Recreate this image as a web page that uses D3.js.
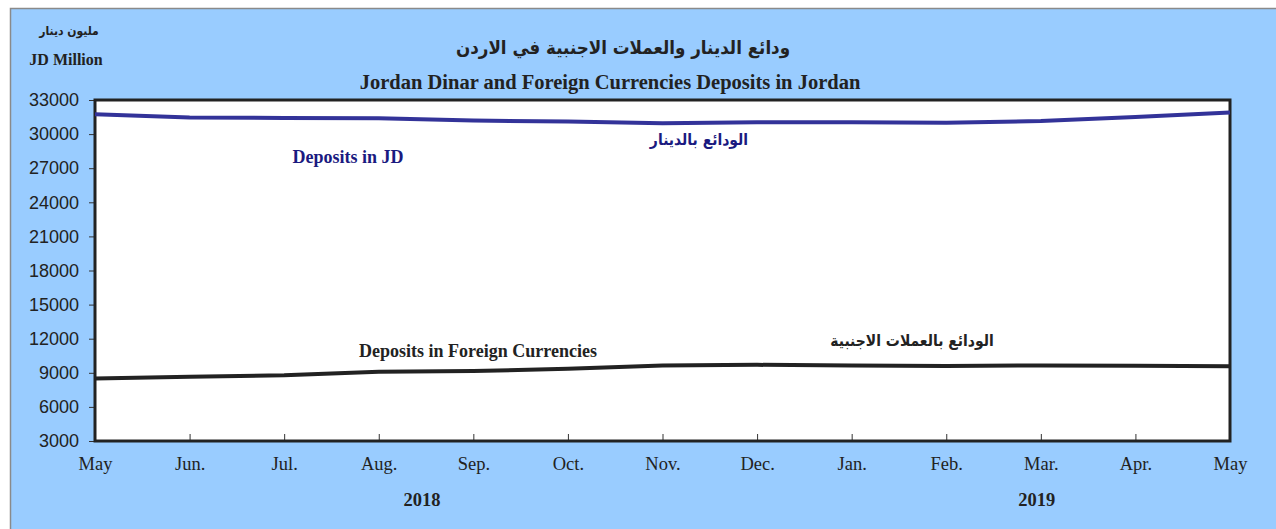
<!DOCTYPE html>
<html>
<head>
<meta charset="utf-8">
<script src="https://cdn.jsdelivr.net/npm/d3@7"></script>
<style>
  body { margin: 0; background: #fff; }
  svg { display: block; }
</style>
</head>
<body>
<script>
// chart data
const months = ['May', 'Jun.', 'Jul.', 'Aug.', 'Sep.', 'Oct.', 'Nov.', 'Dec.', 'Jan.', 'Feb.', 'Mar.', 'Apr.', 'May'];
const depositsJD = [31750, 31450, 31420, 31400, 31200, 31100, 30950, 31050, 31050, 31000, 31150, 31500, 31900];
const depositsFC = [8500, 8650, 8780, 9100, 9150, 9350, 9650, 9700, 9650, 9600, 9650, 9620, 9580];
const yTicks = [3000, 6000, 9000, 12000, 15000, 18000, 21000, 24000, 27000, 30000, 33000];
const years = [{ label: '2018', at: 3.5 }, { label: '2019', at: 10 }];

const W = 1276, H = 529;
const plot = { left: 95, right: 1230, top: 100, bottom: 441 };

const svg = d3.select('body').append('svg')
    .attr('width', W)
    .attr('height', H);

// light blue panel
svg.append('rect')
    .attr('x', 10.5).attr('y', 8.5)
    .attr('width', W).attr('height', H)
    .attr('fill', '#99ccff')
    .attr('stroke', '#8a8a8a')
    .attr('stroke-width', 1.5);

const x = d3.scaleLinear().domain([0, months.length - 1]).range([plot.left, plot.right]);
const y = d3.scaleLinear().domain([3000, 33000]).range([plot.bottom, plot.top]);

// plot area
svg.append('rect')
    .attr('x', plot.left).attr('y', plot.top)
    .attr('width', plot.right - plot.left).attr('height', plot.bottom - plot.top)
    .attr('fill', '#fff');

// y axis
const yAxis = svg.append('g')
    .attr('transform', `translate(${plot.left},0)`)
    .call(d3.axisLeft(y).tickValues(yTicks).tickSize(6).tickPadding(10).tickFormat(d3.format('d')));
yAxis.select('.domain').remove();
yAxis.selectAll('line').attr('stroke', '#333');
yAxis.selectAll('text')
    .attr('font-family', 'Liberation Sans, Arial, sans-serif')
    .attr('font-size', 18)
    .attr('fill', '#222');

// x axis, ticks pointing inward
const xAxis = svg.append('g')
    .attr('transform', `translate(0,${plot.bottom})`)
    .call(d3.axisBottom(x).tickValues(d3.range(months.length))
        .tickSize(-7).tickPadding(16).tickFormat(i => months[i]));
xAxis.select('.domain').remove();
xAxis.selectAll('line').attr('stroke', '#333');
xAxis.selectAll('text')
    .attr('font-family', 'Liberation Serif, Times New Roman, serif')
    .attr('font-size', 18.5)
    .attr('fill', '#222');

// plot frame
svg.append('rect')
    .attr('x', plot.left).attr('y', plot.top)
    .attr('width', plot.right - plot.left).attr('height', plot.bottom - plot.top)
    .attr('fill', 'none')
    .attr('stroke', '#222')
    .attr('stroke-width', 3);

const line = d3.line().x((d, i) => x(i)).y(d => y(d));

svg.append('path')
    .datum(depositsJD)
    .attr('d', line)
    .attr('fill', 'none')
    .attr('stroke', '#333399')
    .attr('stroke-width', 4);

svg.append('path')
    .datum(depositsFC)
    .attr('d', line)
    .attr('fill', 'none')
    .attr('stroke', '#222')
    .attr('stroke-width', 4);

// year labels
svg.selectAll('.year')
    .data(years)
    .enter().append('text')
    .attr('x', d => x(d.at) - 4)
    .attr('y', 506)
    .attr('text-anchor', 'middle')
    .attr('font-family', 'Liberation Serif, Times New Roman, serif')
    .attr('font-weight', 'bold')
    .attr('font-size', 18.5)
    .attr('fill', '#222')
    .text(d => d.label);

// titles
function label(txt, px, py, size, opts = {}) {
    return svg.append('text')
        .attr('x', px).attr('y', py)
        .attr('text-anchor', 'middle')
        .attr('font-family', opts.arabic ? 'DejaVu Sans Condensed, DejaVu Sans, sans-serif' : 'Liberation Serif, Times New Roman, serif')
        .attr('font-stretch', opts.arabic ? 'condensed' : null)
        .attr('font-weight', 'bold')
        .attr('font-size', size)
        .attr('fill', opts.color || '#222')
        .attr('direction', opts.arabic ? 'rtl' : null)
        .text(txt);
}

label('ودائع الدينار والعملات الاجنبية في الاردن', 623, 54, 18.6, { arabic: true });
label('Jordan Dinar and Foreign Currencies Deposits in Jordan', 610, 89, 20.5);
label('مليون دينار', 69, 35, 12, { arabic: true });
label('JD Million', 66, 65, 16);

label('Deposits in JD', 348, 163, 18, { color: '#1a1a80' });
label('الودائع بالدينار', 699, 145, 15.5, { arabic: true, color: '#1a1a80' });
label('Deposits in Foreign Currencies', 478, 357, 18);
label('الودائع بالعملات الاجنبية', 912, 346, 15.5, { arabic: true });
</script>
</body>
</html>
